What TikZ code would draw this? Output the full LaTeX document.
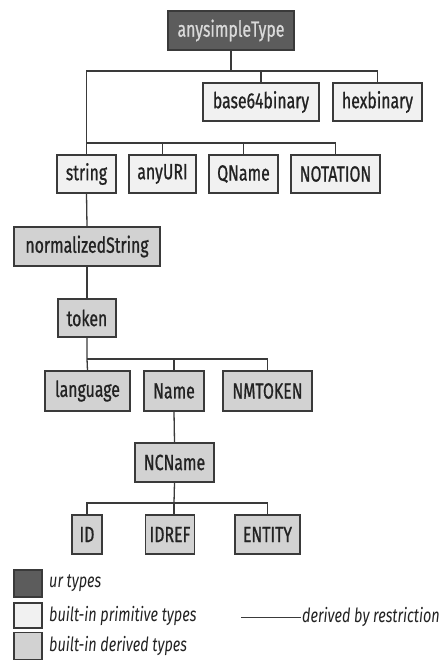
\documentclass[tikz,border=0pt]{standalone}
\usepackage{fontspec}
\setmainfont[FakeStretch=0.74]{Fira Sans}
\newfontfamily\boxfont[FakeStretch=0.72, FakeBold=0.8]{Fira Sans}
\definecolor{urfill}{HTML}{5C5C5C}
\definecolor{primfill}{HTML}{F1F1F1}
\definecolor{derfill}{HTML}{D2D2D2}
\definecolor{edge}{HTML}{3A3A3A}
\definecolor{txt}{HTML}{222222}
\tikzset{
  box/.style={draw=edge, line width=1.3pt, inner sep=0pt, text=txt,
    font=\boxfont\fontsize{22}{23}\selectfont},
  urbox/.style={box, fill=urfill, text=white!85!black},
  primbox/.style={box, fill=primfill},
  derbox/.style={box, fill=derfill},
  link/.style={draw=edge, line width=1.3pt},
  legtext/.style={anchor=west, inner sep=0pt, text=txt, font=\fontsize{19.5}{20}\selectfont\itshape},
}
\begin{document}
\begin{tikzpicture}[x=1pt, y=-1pt]
\useasboundingbox (0,0) rectangle (447,660);
% nodes
\node[urbox, minimum width=126, minimum height=39] (any) at (231,30.5) {anysimpleType};
\node[primbox, minimum width=116, minimum height=38] (b64) at (261,102) {base64binary};
\node[primbox, minimum width=89, minimum height=38] (hex) at (377.5,102) {hexbinary};
\node[primbox, minimum width=59, minimum height=38] (string) at (86.5,174) {string};
\node[primbox, minimum width=67, minimum height=38] (anyURI) at (162.5,174) {anyURI};
\node[primbox, minimum width=69, minimum height=38] (QName) at (243.5,174) {QName};
\node[primbox, minimum width=89, minimum height=38] (NOTATION) at (335.5,174) {NOTATION};
\node[derbox, minimum width=146, minimum height=39] (norm) at (87,246.5) {normalizedString};
\node[derbox, minimum width=58, minimum height=38] (token) at (87,318) {token};
\node[derbox, minimum width=85, minimum height=40] (language) at (87.5,391) {language};
\node[derbox, minimum width=60, minimum height=40] (Name) at (174,391) {Name};
\node[derbox, minimum width=89, minimum height=40] (NMTOKEN) at (267.5,391) {NMTOKEN};
\node[derbox, minimum width=79, minimum height=39] (NCName) at (174.5,462.5) {NCName};
\node[derbox, minimum width=30, minimum height=39] (ID) at (87,534.5) {ID};
\node[derbox, minimum width=49, minimum height=39] (IDREF) at (170,534.5) {IDREF};
\node[derbox, minimum width=65, minimum height=39] (ENTITY) at (267.5,534.5) {ENTITY};
% bus coordinates
\coordinate (bus1) at (231,71);
\coordinate (bus2) at (86.5,143);
\coordinate (bus3) at (87,359);
\coordinate (bus4) at (174,503);
% connectors
\draw[link] (any.south) -- (bus1);
\draw[link] (bus1) -| (string.north);
\draw[link] (bus1) -| (b64.north);
\draw[link] (bus1) -| (hex.north);
\draw[link] (bus2) -| (anyURI.north);
\draw[link] (bus2) -| (QName.north);
\draw[link] (bus2) -| (NOTATION.north);
\draw[link] (string.south) -- (norm.north);
\draw[link] (norm.south) -- (token.north);
\draw[link] (token.south) -- (bus3) -- (language.north);
\draw[link] (bus3) -| (Name.north);
\draw[link] (bus3) -| (NMTOKEN.north);
\draw[link] (Name.south) -- (NCName.north);
\draw[link] (NCName.south) -- (bus4);
\draw[link] (bus4) -| (ID.north);
\draw[link] (bus4) -- (bus4 |- IDREF.north);
\draw[link] (bus4) -| (ENTITY.north);
% legend
\node[urbox, minimum width=28, minimum height=27] (lur) at (28,583.5) {};
\node[primbox, minimum width=28, minimum height=25] (lprim) at (28,615.5) {};
\node[derbox, minimum width=28, minimum height=27] (lder) at (28,646) {};
\node[legtext] (tur) at (49,583.5) {ur types};
\node[legtext] (tprim) at (49,615.5) {built-in primitive types};
\node[legtext] (tder) at (49,646) {built-in derived types};
\node[legtext] (tres) at (302,617) {derived by restriction};
\coordinate (lineL) at (241,617);
\draw[link, line width=1pt] (lineL) -- ([xshift=-1pt]tres.west);
\end{tikzpicture}
\end{document}
